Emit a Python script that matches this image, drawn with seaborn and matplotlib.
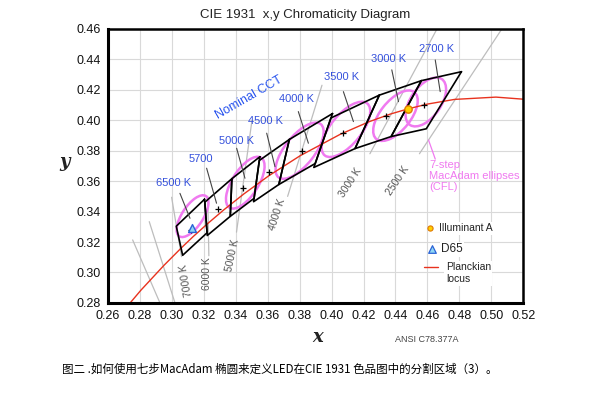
import matplotlib

matplotlib.use("Agg")
import matplotlib.pyplot as plt
from matplotlib.patches import Ellipse
import numpy as np
import pandas as pd
import seaborn as sns

sns.set_theme(style="whitegrid")
plt.rcParams["font.family"] = ["Liberation Sans", "Noto Sans CJK SC", "DejaVu Sans"]

# ANSI C78.377 nominal CCT quadrangles: centre points and corners
cct_labels = ["2700 K", "3000 K", "3500 K", "4000 K", "4500 K", "5000 K", "5700", "6500 K"]
center_x = [0.4578, 0.4338, 0.4073, 0.3818, 0.3611, 0.3447, 0.3287, 0.3123]
center_y = [0.4101, 0.4030, 0.3917, 0.3797, 0.3658, 0.3553, 0.3417, 0.3282]
quad_x = [
    [0.4813, 0.4562, 0.4373, 0.4593],
    [0.4562, 0.4299, 0.4147, 0.4373],
    [0.4299, 0.3996, 0.3889, 0.4147],
    [0.4006, 0.3736, 0.3670, 0.3898],
    [0.3736, 0.3548, 0.3512, 0.3670],
    [0.3551, 0.3376, 0.3366, 0.3515],
    [0.3376, 0.3207, 0.3222, 0.3366],
    [0.3205, 0.3028, 0.3068, 0.3221],
]
quad_y = [
    [0.4319, 0.4260, 0.3893, 0.3944],
    [0.4260, 0.4165, 0.3814, 0.3893],
    [0.4165, 0.4015, 0.3690, 0.3814],
    [0.4044, 0.3874, 0.3578, 0.3716],
    [0.3874, 0.3736, 0.3465, 0.3578],
    [0.3760, 0.3616, 0.3369, 0.3487],
    [0.3616, 0.3462, 0.3243, 0.3369],
    [0.3481, 0.3304, 0.3113, 0.3261],
]

# CFL MacAdam ellipses (1-step semi axes, drawn at 7 steps)
ell_x = [0.459, 0.440, 0.409, 0.380, 0.346, 0.313]
ell_y = [0.412, 0.403, 0.394, 0.380, 0.359, 0.337]
ell_a = [0.00258, 0.00278, 0.00309, 0.00313, 0.00274, 0.00223]
ell_b = [0.00137, 0.00136, 0.00138, 0.00134, 0.00118, 0.00095]
ell_theta = [57.17, 53.13, 52.58, 53.43, 59.37, 58.23]
steps = 7

# Planckian locus
planck_x = [0.2720, 0.2807, 0.2952, 0.3064, 0.3135, 0.3221, 0.3325, 0.3451, 0.3608,
            0.3805, 0.4053, 0.4234, 0.4369, 0.4476, 0.4599, 0.4770, 0.5029, 0.5267]
planck_y = [0.2776, 0.2884, 0.3048, 0.3166, 0.3237, 0.3318, 0.3411, 0.3516, 0.3636,
            0.3768, 0.3907, 0.3990, 0.4041, 0.4074, 0.4106, 0.4137, 0.4152, 0.4133]

# isotherm segments (grey)
iso_labels = ["", "", "7000 K", "6000 K", "5000 K", "4000 K", "3000 K", "2500 K"]
iso_x0 = [0.2755, 0.2859, 0.2999, 0.3225, 0.3502, 0.3940, 0.4660, 0.5066]
iso_y0 = [0.3214, 0.3334, 0.3494, 0.3500, 0.4000, 0.4230, 0.4600, 0.4600]
iso_x1 = [0.2926, 0.3020, 0.3061, 0.3232, 0.3405, 0.3725, 0.4240, 0.4550]
iso_y1 = [0.2800, 0.2800, 0.3104, 0.3110, 0.3265, 0.3500, 0.3780, 0.3780]

illum_a = (0.4476, 0.4074)
d65 = (0.3127, 0.3290)

# label placement (layout only)
cct_lab_pos = [(0.4659, 0.4465), (0.4355, 0.4405), (0.4064, 0.4285), (0.3778, 0.4137),
               (0.3584, 0.3997), (0.3406, 0.3861), (0.3180, 0.3746), (0.3014, 0.3588)]
cct_leader = [((0.4649, 0.4396), (0.4680, 0.4188)), ((0.4377, 0.4331), (0.4419, 0.4122)),
              ((0.4074, 0.4188), (0.4137, 0.3991)), ((0.3792, 0.4057), (0.3855, 0.3849)),
              ((0.3594, 0.3915), (0.3646, 0.3695)), ((0.3406, 0.3816), (0.3458, 0.3619)),
              ((0.3218, 0.3685), (0.3280, 0.3455)), ((0.3051, 0.3520), (0.3114, 0.3356))]
iso_lab_pos = [None, None, (0.3093, 0.2951, 100), (0.3223, 0.2990, 90), (0.3380, 0.3110, 78),
               (0.3657, 0.3378, 72), (0.4121, 0.3591, 57), (0.4417, 0.3601, 56)]

BLUE = "#3551dc"
PINK = "#f07af0"

fig = plt.figure(figsize=(5.96, 3.96), dpi=100)
ax = fig.add_axes([0.181, 0.235, 0.697, 0.692])

for x0, y0, x1, y1 in zip(iso_x0, iso_y0, iso_x1, iso_y1):
    ax.plot([x0, x1], [y0, y1], color="#bdbdbd", lw=0.9, zorder=1)
for lab, pos in zip(iso_labels, iso_lab_pos):
    if pos:
        ax.text(pos[0], pos[1], lab, rotation=pos[2], ha="center", va="center",
                fontsize=7.5, color="#555555", zorder=2)

for cx, cy, a, b, t in zip(ell_x, ell_y, ell_a, ell_b, ell_theta):
    ax.add_patch(Ellipse((cx, cy), 2 * a * steps, 2 * b * steps, angle=t,
                         fill=False, edgecolor=PINK, lw=1.8, zorder=2))

locus = pd.DataFrame({"x": planck_x, "y": planck_y})
sns.lineplot(data=locus, x="x", y="y", sort=False, estimator=None, color="#e8321e",
             lw=1.0, ax=ax, zorder=3)

for qx, qy in zip(quad_x, quad_y):
    ax.plot(qx + qx[:1], qy + qy[:1], color="black", lw=1.2, zorder=4)

sns.scatterplot(x=center_x, y=center_y, marker="+", color="black", s=22, linewidth=0.9,
                ax=ax, zorder=5)

for lab, pos, (p0, p1) in zip(cct_labels, cct_lab_pos, cct_leader):
    ax.text(pos[0], pos[1], lab, ha="center", va="center", fontsize=8, color=BLUE, zorder=6)
    ax.plot([p0[0], p1[0]], [p0[1], p1[1]], color="#444444", lw=0.8, zorder=5)

ax.text(0.3483, 0.4147, "Nominal CCT", rotation=30, ha="center", va="center",
        fontsize=9, color="#2a55ee", zorder=6)

ax.plot([0.4607, 0.4649], [0.3870, 0.3745], color=PINK, lw=0.9, zorder=5)
ax.text(0.4611, 0.3742, "7-step\nMacAdam ellipses\n(CFL)", ha="left", va="top",
        fontsize=8, color=PINK, linespacing=1.15, zorder=6)

# illuminants on the diagram
sns.scatterplot(x=[illum_a[0]], y=[illum_a[1]], marker="o", s=28, color="#ffd000",
                edgecolor="#e07800", linewidth=1.0, ax=ax, zorder=7)
sns.scatterplot(x=[d65[0]], y=[d65[1]], marker="^", s=32, color="#8fd6f5",
                edgecolor="#2b63d6", linewidth=1.0, ax=ax, zorder=7)

# hand-made legend
bbox = dict(facecolor="white", edgecolor="none", pad=1.0)
sns.scatterplot(x=[0.4617], y=[0.3290], marker="o", s=14, color="#ffd000",
                edgecolor="#e07800", linewidth=0.8, ax=ax, zorder=7)
ax.text(0.4675, 0.3290, "Illuminant A", ha="left", va="center", fontsize=7.5,
        color="#222222", bbox=bbox, zorder=6)
sns.scatterplot(x=[0.4628], y=[0.3152], marker="^", s=30, color="#8fd6f5",
                edgecolor="#2b63d6", linewidth=0.9, ax=ax, zorder=7)
ax.text(0.4687, 0.3152, "D65", ha="left", va="center", fontsize=8.5,
        color="#222222", bbox=bbox, zorder=6)
ax.plot([0.4580, 0.4665], [0.3038, 0.3038], color="#e8321e", lw=1.0, zorder=6)
ax.text(0.4715, 0.2995, "Planckian\nlocus", ha="left", va="center", fontsize=7.5,
        color="#222222", linespacing=1.3, bbox=bbox, zorder=6)

ax.set_xlim(0.26, 0.52)
ax.set_ylim(0.28, 0.46)
ax.set_xticks(np.arange(0.26, 0.5201, 0.02))
ax.set_yticks(np.arange(0.28, 0.4601, 0.02))
ax.set_xticklabels([f"{v:.2f}" for v in ax.get_xticks()], fontsize=9)
ax.set_yticklabels([f"{v:.2f}" for v in ax.get_yticks()], fontsize=9)
ax.tick_params(length=0, pad=5, colors="#111111")
ax.set_xlabel("")
ax.set_ylabel("")
ax.grid(True, color="#d9d9d9", lw=0.8)
for side, sp in ax.spines.items():
    sp.set_color("black")
    sp.set_linewidth(2.2 if side in ("left", "bottom") else 1.8)
    sp.set_zorder(10)

fig.text(0.512, 0.962, "CIE 1931  x,y Chromaticity Diagram", ha="center", va="center",
         fontsize=9.5, color="#222222")
fig.text(0.533, 0.149, "x", ha="center", va="center", fontsize=13, style="italic",
         weight="bold", family="DejaVu Serif", color="#222222")
fig.text(0.108, 0.592, "y", ha="center", va="center", fontsize=13, style="italic",
         weight="bold", family="DejaVu Serif", color="#222222")
fig.text(0.716, 0.143, "ANSI C78.377A", ha="center", va="center", fontsize=6.5,
         color="#444444")
fig.text(0.104, 0.068, "图二 .如何使用七步MacAdam 椭圆来定义LED在CIE 1931 色品图中的分割区域（3）。",
         ha="left", va="center", fontsize=8.3, family=["Noto Sans CJK SC", "DejaVu Sans"],
         color="black")

fig.savefig("out.png", dpi=100)
plt.close(fig)
